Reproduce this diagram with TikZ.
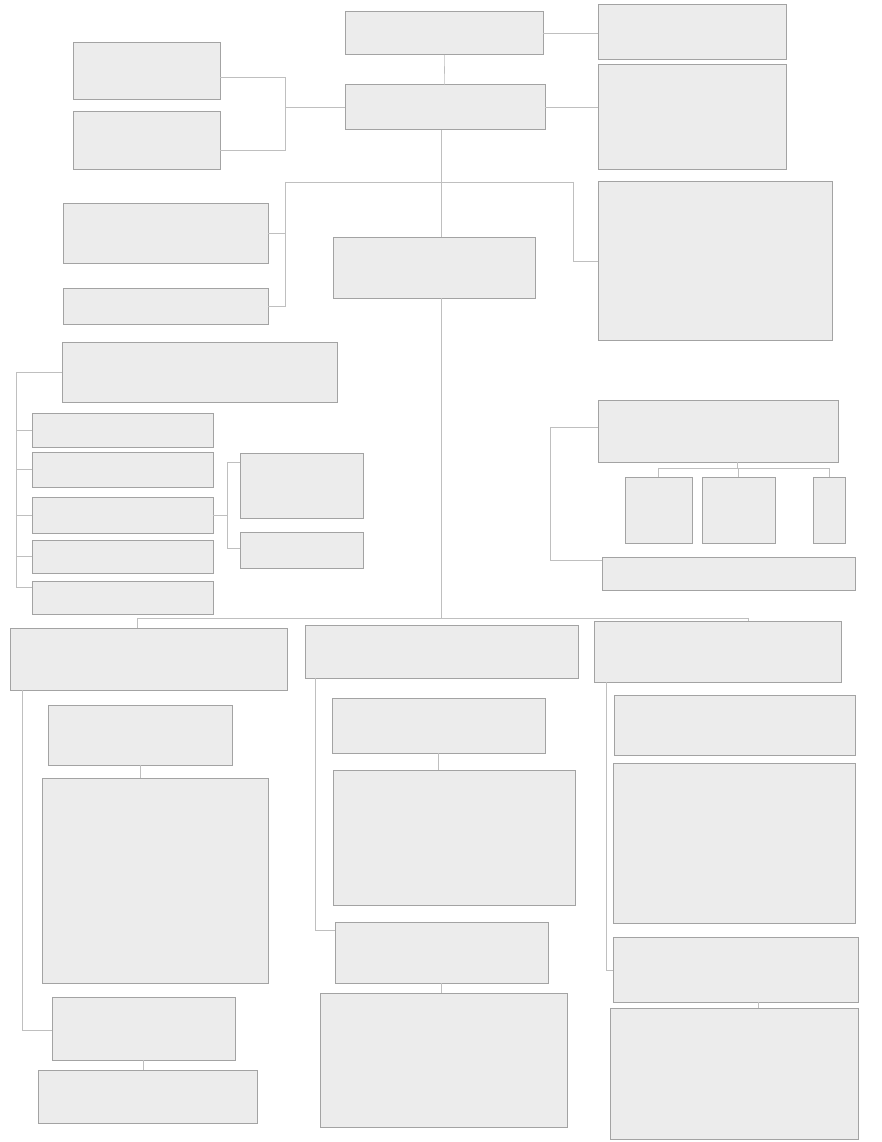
\documentclass[tikz,border=0pt]{standalone}
\usetikzlibrary{fit}
\tikzset{
  box/.style={draw=gray!72, fill=gray!15, line width=1pt, inner sep=0pt, outer sep=0pt},
  link/.style={draw=gray!50, line width=0.6pt},
}
\newcommand{\bx}[5]{\node[box, fit={(#2,#3)(#4,#5)}] (#1) {};}
\begin{document}
\begin{tikzpicture}[x=1pt,y=-1pt]
\useasboundingbox[fill=white] (0,0) rectangle (881,1142);
% top area
\bx{T1}{345}{12}{543}{55}
\bx{T2}{345}{85}{545}{130}
\bx{R1}{598}{5}{786}{60}
\bx{R2}{598}{65}{786}{170}
\bx{L1}{73}{43}{220}{100}
\bx{L2}{73}{112}{220}{170}
\bx{L3}{63}{203}{268}{263}
\bx{L4}{63}{288}{268}{324}
\bx{C1}{333}{237}{535}{298}
\bx{R3}{598}{182}{832}{340}
% left middle group
\bx{L5}{62}{342}{337}{402}
\bx{L6}{32}{413}{213}{447}
\bx{L7}{32}{452}{213}{487}
\bx{L8}{32}{497}{213}{533}
\bx{L9}{32}{540}{213}{573}
\bx{L10}{32}{581}{213}{614}
\bx{L11}{240}{453}{363}{518}
\bx{L12}{240}{532}{363}{568}
% right middle group
\bx{R4}{598}{400}{838}{462}
\bx{S1}{625}{477}{692}{543}
\bx{S2}{702}{477}{775}{543}
\bx{S3}{813}{477}{845}{543}
\bx{R5}{602}{557}{855}{590}
% bottom columns
\bx{B1}{10}{628}{287}{690}
\bx{B1b}{48}{705}{232}{765}
\bx{B1c}{42}{778}{268}{983}
\bx{B1d}{52}{997}{235}{1060}
\bx{B1e}{38}{1070}{257}{1123}
\bx{B2}{305}{625}{578}{678}
\bx{B2b}{332}{698}{545}{753}
\bx{B2c}{333}{770}{575}{905}
\bx{B2d}{335}{922}{548}{983}
\bx{B2e}{320}{993}{567}{1127}
\bx{B3}{594}{621}{841}{682}
\bx{B3b}{614}{695}{855}{755}
\bx{B3c}{613}{763}{855}{923}
\bx{B3d}{613}{937}{858}{1002}
\bx{B3e}{610}{1008}{858}{1139}
% coordinates
\coordinate (mx) at (441,0);
\coordinate (j1) at (285,107.5);
\coordinate (j1a) at (285,77);
\coordinate (j1b) at (285,150);
\coordinate (h1) at (285,182);
\coordinate (h2) at (573,182);
\coordinate (h1b) at (285,306);
\coordinate (bl) at (137,618);
\coordinate (br) at (748,618);
\coordinate (sp1) at (16,372);
\coordinate (sp2) at (16,587);
\coordinate (k1) at (227,462);
\coordinate (k2) at (227,548);
\coordinate (m4) at (737,468);
\coordinate (q1) at (550,427);
\coordinate (q2) at (550,560);
\coordinate (u1) at (22,1030);
\coordinate (u2) at (315,930);
\coordinate (u3) at (606,970);
\coordinate (u4) at (758,0);
% top connectors
\draw[link] (T1) -- (T2);
\draw[link] (T1.east) -- (T1.east -| R1.west);
\draw[link] (T2.east) -- (T2.east -| R2.west);
\draw[link] (L1.east |- j1a) -- (j1a) -- (j1b) -- (L2.east |- j1b);
\draw[link] (j1) -- (T2.west);
\draw[link] (T2.south -| mx) -- (C1.north -| mx);
\draw[link] (h1) -- (h2);
\draw[link] (h1) -- (h1b) -- (L4.east |- h1b);
\draw[link] (L3.east) -- (L3.east -| h1);
\draw[link] (h2) |- (R3.west);
% left middle connectors
\draw[link] (L5.west) -- (sp1) -- (sp2) -- (sp2 -| L10.west);
\draw[link] (L6.west -| sp1) -- (L6.west);
\draw[link] (L7.west -| sp1) -- (L7.west);
\draw[link] (L8.west -| sp1) -- (L8.west);
\draw[link] (L9.west -| sp1) -- (L9.west);
\draw[link] (L8.east) -- (L8.east -| k1);
\draw[link] (L11.west |- k1) -- (k1) -- (k2) -- (L12.west |- k2);
% right middle connectors
\draw[link] (R4.south -| m4) -- (m4);
\draw[link] (S1.north |- m4) -- (S3.north |- m4);
\draw[link] (S1.north |- m4) -- (S1.north);
\draw[link] (S2.north |- m4) -- (S2.north);
\draw[link] (S3.north |- m4) -- (S3.north);
\draw[link] (R4.west |- q1) -- (q1) -- (q2) -- (R5.west |- q2);
% bus
\draw[link] (C1.south -| mx) -- (mx |- bl);
\draw[link] (bl) -- (br);
\draw[link] (bl) -- (bl |- B1.north);
\draw[link] (br) -- (br |- B3.north);
% column 1
\draw[link] (B1.south -| u1) -- (u1) -- (u1 -| B1d.west);
\draw[link] (B1b.south) -- (B1b.south |- B1c.north);
\draw[link] (B1d.south) -- (B1d.south |- B1e.north);
% column 2
\draw[link] (B2.south -| u2) -- (u2) -- (u2 -| B2d.west);
\draw[link] (B2b.south) -- (B2b.south |- B2c.north);
\draw[link] (B2d.south) -- (B2d.south |- B2e.north);
% column 3
\draw[link] (B3.south -| u3) -- (u3) -- (u3 -| B3d.west);
\draw[link] (B3d.south -| u4) -- (B3e.north -| u4);
\end{tikzpicture}
\end{document}
